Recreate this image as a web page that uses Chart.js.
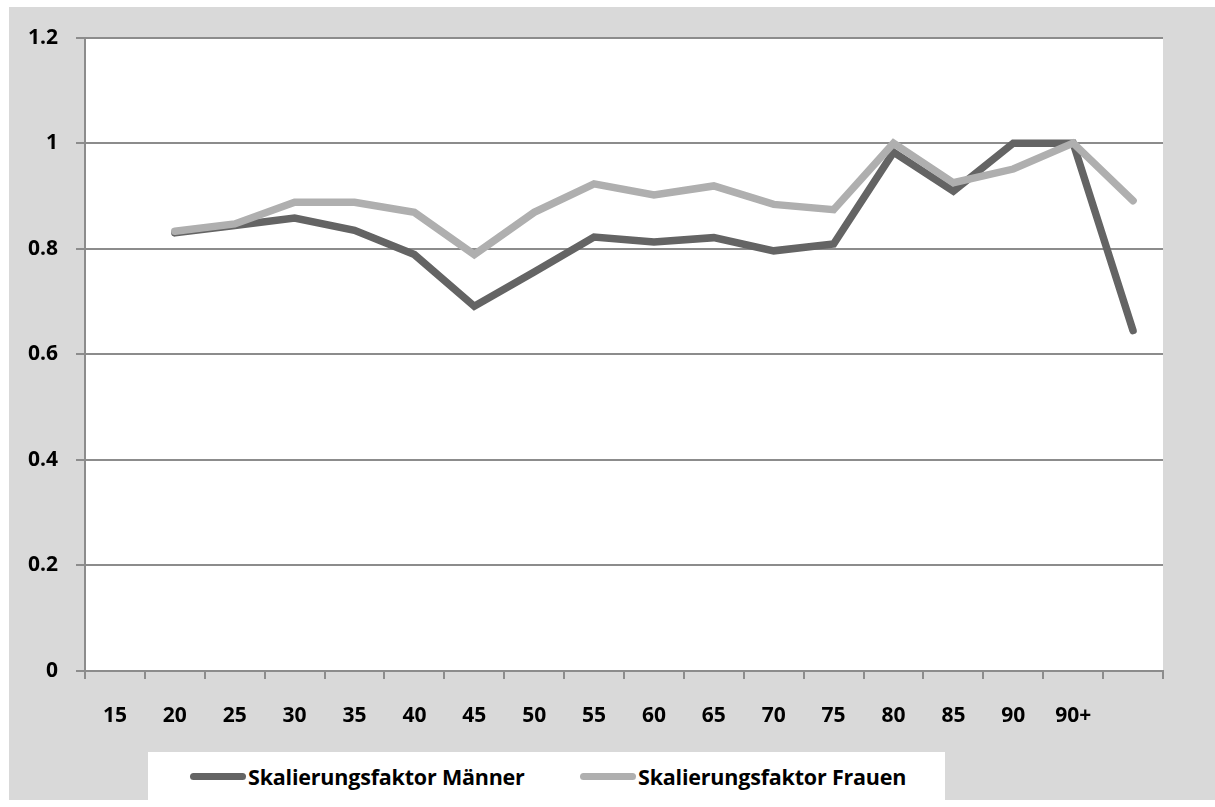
<!DOCTYPE html>
<html>
<head>
<meta charset="utf-8">
<script src="https://cdn.jsdelivr.net/npm/chart.js@4"></script>
<style>
  body { margin: 0; background: #fff; width: 1215px; height: 807px; overflow: hidden; font-family: "Open Sans", sans-serif; }
  #frame { position: absolute; left: 9px; top: 7px; width: 1206px; height: 793px; background: #d9d9d9; }
  #chart { position: absolute; left: 0; top: 0; }
  #legend { position: absolute; left: 139px; top: 745px; width: 797px; height: 48px; background: #fff; }
  .item { position: absolute; top: 0; height: 48px; display: flex; align-items: center; font-weight: bold; font-size: 21.5px; color: #000; letter-spacing: -0.2px; }
  .swatch { width: 56px; height: 7px; border-radius: 4px; margin-right: 2px; }
</style>
</head>
<body>
<div id="frame">
  <canvas id="chart" width="1206" height="793"></canvas>
  <div id="legend"></div>
</div>
<script>
const ageLabels = ['15', '20', '25', '30', '35', '40', '45', '50', '55', '60', '65', '70', '75', '80', '85', '90', '90+', ''];
const factorMen = [null, 0.830, 0.844, 0.858, 0.835, 0.789, 0.691, 0.756, 0.822, 0.813, 0.821, 0.796, 0.809, 0.983, 0.909, 1.0, 1.0, 0.645];
const factorWomen = [null, 0.833, 0.847, 0.888, 0.888, 0.869, 0.789, 0.869, 0.923, 0.902, 0.919, 0.884, 0.874, 1.0, 0.925, 0.951, 1.0, 0.891];
const yTicks = { min: 0, max: 1.2, step: 0.2 };

const colMen = '#646464';
const colWomen = '#afafaf';
const gridCol = '#8c8c8c';
const font = { family: "'Open Sans', sans-serif", size: 21, weight: 'bold' };

// white plot area on the grey frame
const plotBg = {
    id: 'plotBg',
    beforeDraw(chart) {
        const a = chart.chartArea;
        const ctx = chart.ctx;
        ctx.save();
        ctx.fillStyle = '#fff';
        ctx.fillRect(a.left, a.top, a.right - a.left, a.bottom - a.top);
        ctx.restore();
    }
};

const series = [
    { label: 'Skalierungsfaktor Männer', data: factorMen, color: colMen, order: 1 },
    { label: 'Skalierungsfaktor Frauen', data: factorWomen, color: colWomen, order: 0 }
];

new Chart(document.getElementById('chart'), {
    type: 'line',
    data: {
        labels: ageLabels,
        datasets: series.map(s => ({
            label: s.label,
            data: s.data,
            borderColor: s.color,
            backgroundColor: s.color,
            borderWidth: 7.5,
            borderCapStyle: 'round',
            borderJoinStyle: 'miter',
            pointRadius: 0,
            tension: 0,
            order: s.order
        }))
    },
    options: {
        responsive: false,
        animation: false,
        locale: 'en-US',
        layout: { padding: { top: 30, right: 52, left: 0, bottom: 0 } },
        plugins: { legend: { display: false }, tooltip: { enabled: false } },
        scales: {
            x: {
                offset: true,
                afterFit(scale) { scale.height = 129; },
                grid: { offset: true, drawOnChartArea: false, tickLength: 8, color: gridCol, lineWidth: 2 },
                border: { color: gridCol, width: 2 },
                ticks: { font: font, color: '#000', padding: 24, maxRotation: 0, autoSkip: false }
            },
            y: {
                min: yTicks.min,
                max: yTicks.max,
                afterFit(scale) { scale.width = 76; },
                grid: { color: gridCol, lineWidth: 2, tickLength: 9 },
                border: { color: gridCol, width: 2 },
                ticks: {
                    stepSize: yTicks.step, font: font, color: '#000', padding: 18,
                    callback: v => String(Math.round(v * 10) / 10)
                }
            }
        }
    },
    plugins: [plotBg]
});

// legend box at the bottom
const legend = document.getElementById('legend');
const legendX = [42, 432];
series.forEach((s, i) => {
    const item = document.createElement('div');
    item.className = 'item';
    item.style.left = legendX[i] + 'px';
    item.innerHTML = '<div class="swatch" style="background:' + s.color + '"></div><span>' + s.label + '</span>';
    legend.appendChild(item);
});
</script>
</body>
</html>
